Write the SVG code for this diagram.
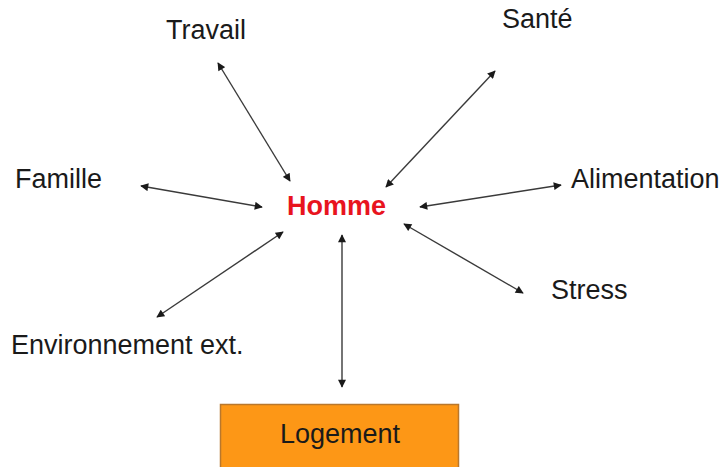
<svg xmlns="http://www.w3.org/2000/svg" width="723" height="467" viewBox="0 0 723 467">
<style>
.t{font-family:"Liberation Sans",Arial,sans-serif;font-size:27px;fill:#1a1a1a}
.h{font-family:"Liberation Sans",Arial,sans-serif;font-size:27px;font-weight:bold;fill:#e8141e}
.c{stroke:#3a3a3a;stroke-width:1.4;fill:none;marker-start:url(#a);marker-end:url(#a)}
</style>
<defs>
<marker id="a" viewBox="0 0 10 10" refX="9" refY="5" markerWidth="9" markerHeight="8" markerUnits="userSpaceOnUse" orient="auto-start-reverse">
<path d="M0,0 L10,5 L0,10 z" fill="#1a1a1a"/>
</marker>
</defs>
<rect width="723" height="467" fill="#ffffff"/>
<g id="connectors">
<line class="c" x1="290" y1="181" x2="218" y2="63"/>
<line class="c" x1="262" y1="207" x2="141" y2="186"/>
<line class="c" x1="386" y1="187" x2="495" y2="71"/>
<line class="c" x1="420" y1="207" x2="561" y2="185"/>
<line class="c" x1="404" y1="224" x2="523" y2="293"/>
<line class="c" x1="283" y1="232" x2="157" y2="317"/>
<line class="c" x1="342" y1="235" x2="342" y2="387"/>
</g>
<g id="homme"><text class="h" x="287" y="215">Homme</text></g>
<g id="travail"><text class="t" x="166" y="39">Travail</text></g>
<g id="sante"><text class="t" x="502" y="28">Santé</text></g>
<g id="famille"><text class="t" x="15" y="188">Famille</text></g>
<g id="alimentation"><text class="t" x="571" y="188">Alimentation</text></g>
<g id="stress"><text class="t" x="551" y="299">Stress</text></g>
<g id="environnement"><text class="t" x="11" y="354">Environnement ext.</text></g>
<g id="logement">
<rect x="220.5" y="404.5" width="238" height="70" fill="#fd9716" stroke="#b9772c" stroke-width="1.5"/>
<text class="t" x="340" y="443" text-anchor="middle">Logement</text>
</g>
</svg>
